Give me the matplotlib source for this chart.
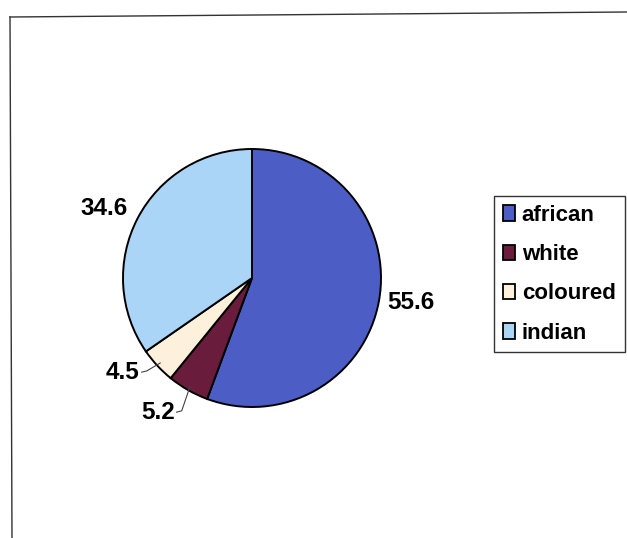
import numpy as np
import matplotlib
matplotlib.use("Agg")
import matplotlib.pyplot as plt
from matplotlib.patches import Patch
from matplotlib.lines import Line2D

# data
groups = ["african", "white", "coloured", "indian"]
shares = [55.6, 5.2, 4.5, 34.6]
colors = ["#4c5ec6", "#6a1c3c", "#fdf1dc", "#abd5f6"]

plt.rcParams['font.family'] = ['Liberation Sans', 'DejaVu Sans']

W, H = 627, 538
fig = plt.figure(figsize=(W / 100, H / 100), dpi=100)

# pie axes: centre (252, 278) px, radius 129 px
cx, cy, r = 252, 278, 129
ax = fig.add_axes([(cx - r) / W, (H - cy - r) / H, 2 * r / W, 2 * r / H])
wedges, _ = ax.pie(shares, colors=colors, startangle=90, counterclock=False,
                   radius=1.0, wedgeprops=dict(edgecolor="black", linewidth=1.4))
ax.set_xlim(-1, 1)
ax.set_ylim(-1, 1)
ax.set_aspect("equal")
ax.axis("off")

lab_kw = dict(fontsize=17.5, fontweight="bold", color="black", clip_on=False)

# value labels
ax.text(1.05, -0.19, f"{shares[0]}", ha="left", va="center", **lab_kw)
ax.text(-1.15, 0.54, f"{shares[3]}", ha="center", va="center", **lab_kw)
ax.text(-0.87, -0.73, f"{shares[2]}", ha="right", va="center", **lab_kw)
ax.text(-0.60, -1.04, f"{shares[1]}", ha="right", va="center", **lab_kw)

# leader lines toward wedge edges
for w, (tx, ty) in [(wedges[2], (-0.855, -0.73)), (wedges[1], (-0.585, -1.04))]:
    ang = np.deg2rad((w.theta1 + w.theta2) / 2)
    ex, ey = 0.97 * np.cos(ang), 0.97 * np.sin(ang)
    ax.plot([tx, tx + 0.04, ex], [ty, ty + 0.01, ey], color="#444444",
            lw=0.8, clip_on=False)

# legend
handles = [Patch(facecolor=c, edgecolor="black", linewidth=1.3) for c in colors]
leg = fig.legend(handles, groups, loc="upper left",
                 bbox_to_anchor=(494 / W, 1 - 196 / H), frameon=True,
                 fancybox=False, prop=dict(family="Liberation Sans", size=16, weight="bold"),
                 handlelength=0.55, handleheight=0.7, handletextpad=0.3,
                 labelspacing=0.82, borderpad=0.4, borderaxespad=0)
leg.get_frame().set_edgecolor("black")
leg.get_frame().set_linewidth(1.0)

# scanned frame edges (top and left)
fig.add_artist(Line2D([10 / W, 1.0], [1 - 17 / H, 1 - 12 / H], color="#333333", lw=1.0))
fig.add_artist(Line2D([10 / W, 12 / W], [1 - 17 / H, 0.0], color="#333333", lw=1.0))

fig.savefig("out.png", dpi=100)
